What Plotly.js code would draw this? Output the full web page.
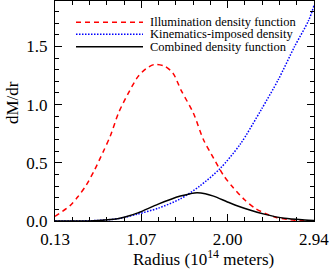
<!DOCTYPE html>
<html>
<head>
<meta charset="utf-8">
<script src="https://cdn.plot.ly/plotly-3.0.1.min.js"></script>
<style>html,body{margin:0;padding:0;background:#fff;}#chart{width:330px;height:275px;}</style>
</head>
<body>
<div id="chart"></div>
<script>
// Illumination density function (red dashed)
const radiusIllum = [0.13, 0.15, 0.29, 0.38, 0.47, 0.56, 0.65, 0.73, 0.82, 0.92, 1.03, 1.12, 1.21, 1.32, 1.41, 1.50, 1.63, 1.74, 1.85, 1.96, 2.06, 2.19, 2.30, 2.41, 2.53, 2.65, 2.75, 2.94];
const illum       = [0.04, 0.05, 0.13, 0.21, 0.31, 0.44, 0.59, 0.73, 0.93, 1.09, 1.24, 1.31, 1.345, 1.33, 1.27, 1.12, 0.93, 0.70, 0.54, 0.39, 0.29, 0.18, 0.11, 0.065, 0.03, 0.015, 0.005, 0.0];
// Kinematics-imposed density (blue dotted)
const radiusKin = [0.13, 0.30, 0.50, 0.70, 0.85, 1.03, 1.25, 1.49, 1.70, 1.92, 2.14, 2.37, 2.55, 2.73, 2.88, 2.94];
const kin       = [0.0, 0.0, 0.002, 0.01, 0.025, 0.06, 0.11, 0.19, 0.30, 0.45, 0.66, 0.96, 1.21, 1.50, 1.72, 1.85];
// Combined density function (black solid)
const radiusComb = [0.13, 0.50, 0.70, 0.81, 0.89, 1.03, 1.25, 1.49, 1.60, 1.67, 1.76, 1.85, 2.03, 2.20, 2.41, 2.62, 2.84, 2.94];
const comb       = [0.0, 0.0, 0.01, 0.02, 0.035, 0.07, 0.145, 0.214, 0.235, 0.243, 0.235, 0.214, 0.155, 0.105, 0.057, 0.023, 0.009, 0.005];

const xTickVals = [0.13, 1.0667, 2.0033, 2.94];
const xTickText = ['0.13', '1.07', '2.00', '2.94'];
const seriesNames = ['Illumination density function', 'Kinematics-imposed density', 'Combined density function'];
const seriesColors = ['#ff0000', '#0000ff', '#000000'];
const seriesDash = ['5px,4px', '1.5px,1.5px', 'solid'];

const FONT = 'Liberation Serif, Times New Roman, serif';

const traces = [
  {x: radiusIllum, y: illum, name: seriesNames[0]},
  {x: radiusKin, y: kin, name: seriesNames[1]},
  {x: radiusComb, y: comb, name: seriesNames[2]}
].map((t, i) => Object.assign(t, {
  type: 'scatter', mode: 'lines',
  line: {color: seriesColors[i], width: 1.5, dash: seriesDash[i], shape: 'spline', smoothing: 0.8},
  hoverinfo: 'skip'
}));

const L = 55, R = 314, T = 1, B = 221;
const px2x = p => (p - L) / (R - L);
const py2y = p => (B - p) / (B - T);

const legendRows = [22.3, 34.3, 46.7];
const shapes = legendRows.map((py, i) => ({
  type: 'line', xref: 'paper', yref: 'paper',
  x0: px2x(76), x1: px2x(143), y0: py2y(py), y1: py2y(py),
  line: {color: seriesColors[i], width: 1.5, dash: seriesDash[i]}
}));
const annotations = legendRows.map((py, i) => ({
  xref: 'paper', yref: 'paper', x: px2x(148), y: py2y(py),
  xanchor: 'left', yanchor: 'middle', showarrow: false,
  text: seriesNames[i], font: {family: FONT, size: 12.5, color: '#000'}
}));
annotations.push({
  xref: 'paper', yref: 'paper', x: px2x(203), y: py2y(258),
  xanchor: 'center', yanchor: 'middle', showarrow: false,
  text: 'Radius (10<sup>14</sup> meters)', font: {family: FONT, size: 17, color: '#000'}
});
annotations.push({
  xref: 'paper', yref: 'paper', x: px2x(12), y: py2y(103),
  xanchor: 'center', yanchor: 'middle', showarrow: false, textangle: -90,
  text: 'dM/dr', font: {family: FONT, size: 17, color: '#000'}
});

const layout = {
  width: 330, height: 275,
  margin: {l: L, r: 330 - R, t: T, b: 275 - B, pad: 0},
  paper_bgcolor: '#fff', plot_bgcolor: '#fff',
  showlegend: false,
  font: {family: FONT, size: 17, color: '#000'},
  xaxis: {
    range: [0.1299, 2.9401], tickmode: 'array', tickvals: xTickVals, ticktext: xTickText,
    ticks: 'inside', ticklen: 7, tickwidth: 1, tickcolor: '#000',
    showline: true, linecolor: '#000', linewidth: 1, mirror: 'ticks',
    showgrid: false, zeroline: false, ticklabelstandoff: 3,
    minor: {tickmode: 'linear', tick0: 0.13, dtick: 0.187333, ticks: 'inside', ticklen: 4, tickcolor: '#000', showgrid: false},
    tickfont: {family: FONT, size: 17, color: '#000'}
  },
  yaxis: {
    range: [0, 1.89], tickmode: 'linear', tick0: 0, dtick: 0.5, tickformat: '.1f',
    ticks: 'inside', ticklen: 7, tickwidth: 1, tickcolor: '#000',
    showline: true, linecolor: '#000', linewidth: 1, mirror: 'ticks',
    showgrid: false, zeroline: false, ticklabelstandoff: 3,
    minor: {tickmode: 'linear', tick0: 0, dtick: 0.1, ticks: 'inside', ticklen: 4, tickcolor: '#000', showgrid: false},
    tickfont: {family: FONT, size: 17, color: '#000'}
  },
  shapes: shapes,
  annotations: annotations
};

Plotly.newPlot('chart', traces, layout, {staticPlot: true, displayModeBar: false});
</script>
</body>
</html>
